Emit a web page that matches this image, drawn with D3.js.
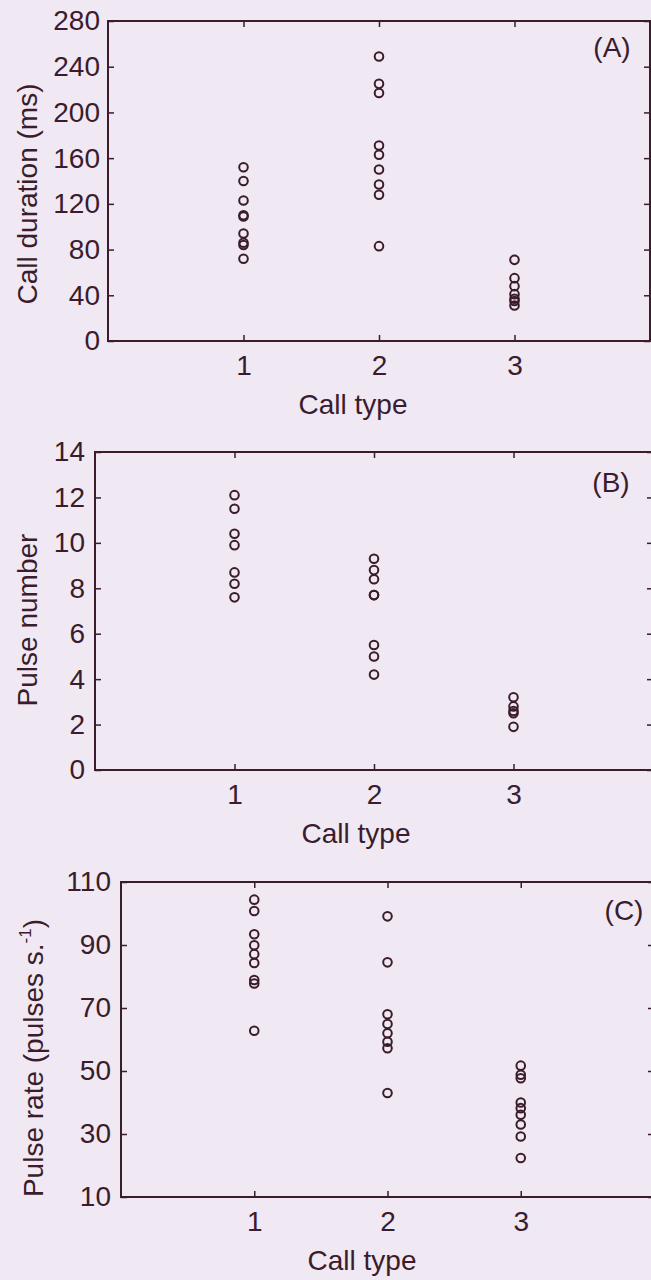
<!DOCTYPE html>
<html>
<head>
<meta charset="utf-8">
<script src="https://cdn.jsdelivr.net/npm/d3@7"></script>
<style>
  body { margin: 0; background: #f0e8f3; }
  svg { display: block; overflow: hidden; }
  text { font-family: "Liberation Sans", Arial, sans-serif; fill: #3a1c2c; }
</style>
</head>
<body>
<div class="chart"></div>
<script>
var svgWidth = 651;
var svgHeight = 1280;
var ink = "#3a1c2c";
var fontSize = "28px";

// Data
var callTypes = [1, 2, 3];

var durationType1 = [152, 140, 123, 110, 109, 94, 86, 84, 72];
var durationType2 = [249, 225, 217, 171, 163, 150, 137, 128, 83];
var durationType3 = [71, 55, 48, 41, 37, 35, 31];

var pulseNumType1 = [12.1, 11.5, 10.4, 9.9, 8.7, 8.2, 7.6];
var pulseNumType2 = [9.3, 8.8, 8.4, 7.7, 7.7, 5.5, 5.0, 4.2];
var pulseNumType3 = [3.2, 2.8, 2.6, 2.5, 1.9];

var pulseRateType1 = [104.4, 100.8, 93.4, 89.9, 87.1, 84.3, 78.9, 77.8, 62.8];
var pulseRateType2 = [99.1, 84.5, 68.0, 64.9, 62.0, 59.3, 57.2, 43.0];
var pulseRateType3 = [51.7, 48.8, 47.7, 40.0, 38.2, 36.1, 33.0, 29.2, 22.4];

var yTicksA = [0, 40, 80, 120, 160, 200, 240, 280];
var yTicksB = [0, 2, 4, 6, 8, 10, 12, 14];
var yTicksC = [10, 30, 50, 70, 90, 110];

var xLabel = "Call type";

var svg = d3.select(".chart")
  .append("svg")
  .attr("width", svgWidth)
  .attr("height", svgHeight);

// one panel = frame + ticks + circles
function drawPanel(p) {
  var width = p.right - p.left;
  var height = p.bottom - p.top;

  var g = svg.append("g")
    .attr("transform", `translate(${p.left}, ${p.top})`);

  var xScale = d3.scaleLinear().domain([0, 4]).range([0, width]);
  var yScale = d3.scaleLinear().domain(p.yDomain).range([height, 0]);

  var tick = 6;

  // left axis with labels, right axis ticks only
  var leftAxis = d3.axisLeft(yScale).tickValues(p.yTicks).tickSizeInner(-tick).tickSizeOuter(0).tickPadding(p.tickPad);
  var rightAxis = d3.axisRight(yScale).tickValues(p.yTicks).tickSizeInner(-tick).tickSizeOuter(0).tickFormat("");
  var bottomAxis = d3.axisBottom(xScale).tickValues(callTypes).tickFormat(d3.format("d"))
    .tickSizeInner(-tick).tickSizeOuter(0).tickPadding(14);
  var topAxis = d3.axisTop(xScale).tickValues(callTypes).tickSizeInner(-tick).tickSizeOuter(0).tickFormat("");

  g.append("g").call(leftAxis);
  g.append("g").attr("transform", `translate(${width}, 0)`).call(rightAxis);
  g.append("g").attr("transform", `translate(0, ${height})`).call(bottomAxis);
  g.append("g").call(topAxis);

  g.selectAll(".domain").remove();
  g.selectAll(".tick line").attr("stroke", ink).attr("stroke-width", 1.5);
  g.selectAll(".tick text")
    .style("font-family", "'Liberation Sans', Arial, sans-serif")
    .style("font-size", fontSize)
    .attr("fill", ink);

  // box
  g.append("rect")
    .attr("x", 0).attr("y", 0)
    .attr("width", width).attr("height", height)
    .attr("fill", "none")
    .attr("stroke", ink)
    .attr("stroke-width", 2);

  // circles
  p.series.forEach(function(values, i) {
    g.selectAll(null)
      .data(values)
      .enter()
      .append("circle")
      .attr("cx", xScale(callTypes[i]))
      .attr("cy", d => yScale(d))
      .attr("r", 4.3)
      .attr("fill", "none")
      .attr("stroke", ink)
      .attr("stroke-width", 2);
  });

  // panel letter
  g.append("text")
    .attr("x", p.letterX - p.left)
    .attr("y", p.letterY - p.top)
    .attr("text-anchor", "middle")
    .style("font-size", fontSize)
    .text(p.letter);

  // x label
  g.append("text")
    .attr("x", p.xLabelX - p.left)
    .attr("y", height + 73)
    .attr("text-anchor", "middle")
    .style("font-size", fontSize)
    .text(xLabel);

  // y label
  var yl = g.append("text")
    .attr("transform", `translate(${p.yLabelX - p.left}, ${p.yLabelY - p.top}) rotate(-90)`)
    .attr("text-anchor", "middle")
    .style("font-size", fontSize);
  yl.append("tspan").text(p.yLabel);
  if (p.yLabelSup) {
    yl.append("tspan").attr("dy", -12).style("font-size", "17px").text(p.yLabelSup);
    yl.append("tspan").attr("dy", 12).text(")");
  }
}

drawPanel({
  left: 108, right: 650, top: 21, bottom: 341,
  yDomain: [0, 280], yTicks: yTicksA, tickPad: 8,
  series: [durationType1, durationType2, durationType3],
  letter: "(A)", letterX: 612, letterY: 57, xLabelX: 353,
  yLabel: "Call duration (ms)", yLabelX: 37, yLabelY: 194
});

drawPanel({
  left: 95, right: 653, top: 452, bottom: 770,
  yDomain: [0, 14], yTicks: yTicksB, tickPad: 10,
  series: [pulseNumType1, pulseNumType2, pulseNumType3],
  letter: "(B)", letterX: 611, letterY: 492, xLabelX: 356,
  yLabel: "Pulse number", yLabelX: 37, yLabelY: 620
});

drawPanel({
  left: 121, right: 654, top: 882, bottom: 1197,
  yDomain: [10, 110], yTicks: yTicksC, tickPad: 10,
  series: [pulseRateType1, pulseRateType2, pulseRateType3],
  letter: "(C)", letterX: 624, letterY: 920, xLabelX: 362,
  yLabel: "Pulse rate (pulses s.", yLabelSup: "-1", yLabelX: 43, yLabelY: 1058
});
</script>
</body>
</html>
